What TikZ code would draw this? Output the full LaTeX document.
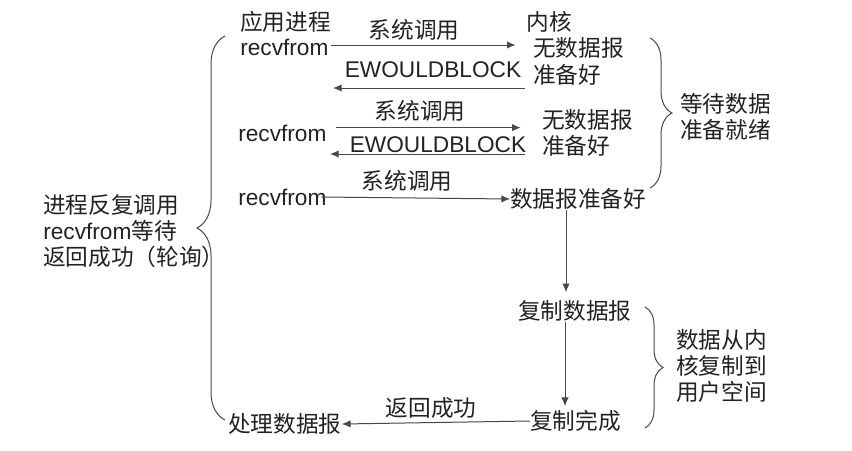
\documentclass[tikz,border=0pt]{standalone}
\usepackage{fontspec}
\setmainfont{Liberation Sans}
\newfontfamily\cjk{Noto Sans CJK SC}
\usetikzlibrary{decorations.pathreplacing,arrows.meta}
\definecolor{ink}{HTML}{222222}
\definecolor{linec}{HTML}{484848}
\begin{document}
\begin{tikzpicture}[x=0.75pt,y=-0.75pt,
  txt/.style={inner sep=0pt,text=ink,font=\fontsize{17}{20}\selectfont},
  zh/.style={txt,font=\fontsize{17}{20}\selectfont\cjk},
  arr/.style={draw=linec,line width=0.75pt,-{Latex[length=6.5pt,width=5.5pt]}},
  brc/.style={draw=linec,line width=0.75pt,decorate,decoration={brace,amplitude=#1}}
]
\useasboundingbox[fill=white] (0,0) rectangle (852,450);

% process side
\node[zh,anchor=west] (app) at (240,22) {应用进程};
\node[txt,anchor=west] (rv1) at (240,47) {recvfrom};
\node[txt,anchor=west] (rv2) at (238,133) {recvfrom};
\node[txt,anchor=west] (rv3) at (238,197) {recvfrom};
\node[zh,anchor=west] (proc) at (228,424) {处理数据报};

% labels on arrows
\node[zh] (sc1) at (414,30) {系统调用};
\node[txt] (ew1) at (433,70) {EWOULDBLOCK};
\node[zh] (sc2) at (420,111) {系统调用};
\node[txt] (ew2) at (438,145) {EWOULDBLOCK};
\node[zh] (sc3) at (407,181) {系统调用};
\node[zh] (ret) at (431,408) {返回成功};

% kernel side
\node[zh] (kern) at (549,22) {内核};
\node[zh,anchor=west] (nd1) at (533,48) {无数据报};
\node[zh,anchor=west] (rd1) at (533,75) {准备好};
\node[zh,anchor=west] (nd2) at (542,120) {无数据报};
\node[zh,anchor=west] (rd2) at (542,146) {准备好};
\node[zh,anchor=west] (ready) at (510,199) {数据报准备好};
\node[zh,anchor=west] (copy) at (518,311) {复制数据报};
\node[zh,anchor=west] (done) at (530,421) {复制完成};

% side notes
\node[txt,anchor=west,align=left,font=\fontsize{17}{19.5}\selectfont] (poll) at (43,231)
  {{\cjk 进程反复调用}\\recvfrom{\cjk 等待}\\{\cjk 返回成功（轮询）}};
\node[zh,anchor=west,align=left,font=\fontsize{17}{20}\selectfont\cjk] (wait) at (680,117)
  {等待数据\\准备就绪};
\node[zh,anchor=west,align=left,font=\fontsize{17}{19.5}\selectfont\cjk] (copyk) at (676,366)
  {数据从内\\核复制到\\用户空间};

% free ends of the error returns
\coordinate (b1s) at (525,88);
\coordinate (b1e) at (333,88);
\coordinate (b2s) at (525,154);
\coordinate (b2e) at (330,154);

% connectors
\draw[arr] ([xshift=2pt,yshift=1.5pt]rv1.east) -- ([xshift=-13pt,yshift=1.5pt]rv1.east -| nd1.west);
\draw[arr] (b1s) -- (b1e);
\draw[arr] ([xshift=7pt,yshift=4pt]rv2.east) -- ([xshift=-16pt,yshift=4pt]rv2.east -| nd2.west);
\draw[arr] (b2s) -- (b2e);
\draw[arr] ([xshift=-4pt]rv3.east) -- (ready.west);
\draw[arr] (ready.south -| 566,0) -- ([yshift=6pt]copy.north -| 566,0);
\draw[arr] (copy.south -| 565,0) -- ([yshift=3pt]done.north -| 565,0);
\draw[arr] (done.west) -- (proc.east);

% braces
\draw[brc=21pt] (225,420) -- (225,36);
\draw[brc=16.5pt] (650,38) -- (650,188);
\draw[brc=13.5pt] (645,307) -- (645,428);
\end{tikzpicture}
\end{document}
